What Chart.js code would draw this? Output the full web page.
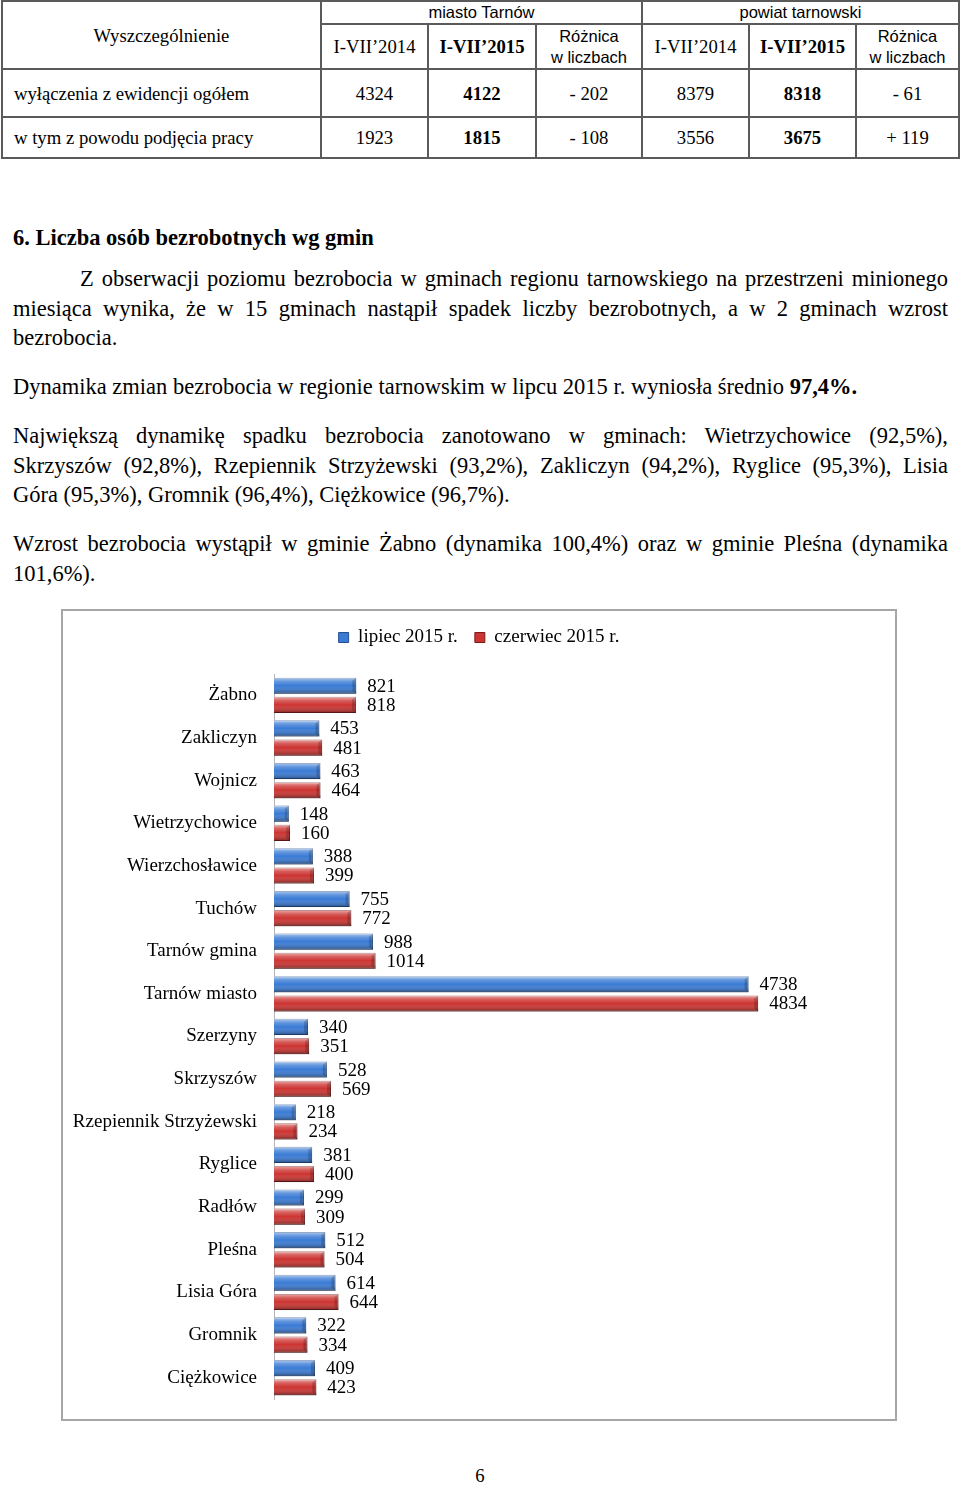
<!DOCTYPE html>
<html lang="pl">
<head>
<meta charset="utf-8">
<title>Liczba osób bezrobotnych wg gmin</title>
<script src="https://cdn.jsdelivr.net/npm/chart.js@4.4.1/dist/chart.umd.min.js"></script>
<style>
  body {
    margin: 0;
    width: 960px;
    height: 1485px;
    position: relative;
    overflow: hidden;
    background: #fff;
    color: #000;
    font-family: "Liberation Serif", "Times New Roman", serif;
  }
  .tab { position: absolute; left: 1px; top: 0; border-collapse: collapse; table-layout: fixed; }
  .tab td { border: 2px solid #5a5a5a; padding: 0; text-align: center; font-size: 18.7px; line-height: 21px; }
  .tab td.l { text-align: left; padding-left: 11px; }
  .tab .s { font-family: "Liberation Sans", Arial, sans-serif; font-size: 16.5px; line-height: 21px; }
  .tab b { font-weight: bold; }
  .txt { position: absolute; left: 13px; width: 935px; font-size: 22.5px; line-height: 29.6px; }
  .j { text-align: justify; text-align-last: justify; }
  .ind { text-indent: 67px; }
  #box {
    position: absolute; left: 61px; top: 609px; width: 836px; height: 812px;
    border: 2px solid #a6a6a6; box-sizing: border-box;
  }
  #wrap { position: absolute; left: 0; top: 0; width: 832px; height: 808px; }
  .page { position: absolute; left: 0; width: 960px; top: 1465px; text-align: center; font-size: 18.7px; }
</style>
</head>
<body>

<table class="tab">
  <colgroup>
    <col style="width:319px"><col style="width:107px"><col style="width:108px"><col style="width:106px">
    <col style="width:107px"><col style="width:107px"><col style="width:103px">
  </colgroup>
  <tr style="height:22px">
    <td rowspan="2">Wyszczególnienie</td>
    <td colspan="3" class="s">miasto Tarnów</td>
    <td colspan="3" class="s">powiat tarnowski</td>
  </tr>
  <tr style="height:45px">
    <td>I-VII’2014</td><td><b>I-VII’2015</b></td><td class="s">Różnica<br>w liczbach</td>
    <td>I-VII’2014</td><td><b>I-VII’2015</b></td><td class="s">Różnica<br>w liczbach</td>
  </tr>
  <tr style="height:48px">
    <td class="l">wyłączenia z ewidencji ogółem</td>
    <td>4324</td><td><b>4122</b></td><td>- 202</td><td>8379</td><td><b>8318</b></td><td>- 61</td>
  </tr>
  <tr style="height:41px">
    <td class="l">w tym z powodu podjęcia pracy</td>
    <td>1923</td><td><b>1815</b></td><td>- 108</td><td>3556</td><td><b>3675</b></td><td>+ 119</td>
  </tr>
</table>

<div class="txt" style="top:223px"><b>6. Liczba osób bezrobotnych wg gmin</b></div>

<div class="txt" style="top:264px">
  <div class="j ind">Z obserwacji poziomu bezrobocia w gminach regionu tarnowskiego na przestrzeni minionego</div>
  <div class="j">miesiąca wynika, że w 15 gminach nastąpił spadek liczby bezrobotnych, a w 2 gminach wzrost</div>
  <div>bezrobocia.</div>
</div>

<div class="txt" style="top:372px">Dynamika zmian bezrobocia w regionie tarnowskim w lipcu 2015 r. wyniosła średnio <b>97,4%.</b></div>

<div class="txt" style="top:421px">
  <div class="j">Największą dynamikę spadku bezrobocia zanotowano w gminach: Wietrzychowice (92,5%),</div>
  <div class="j">Skrzyszów (92,8%), Rzepiennik Strzyżewski (93,2%), Zakliczyn (94,2%), Ryglice (95,3%), Lisia</div>
  <div>Góra (95,3%), Gromnik (96,4%), Ciężkowice (96,7%).</div>
</div>

<div class="txt" style="top:529px">
  <div class="j">Wzrost bezrobocia wystąpił w gminie Żabno (dynamika 100,4%) oraz w gminie Pleśna (dynamika</div>
  <div>101,6%).</div>
</div>

<div id="box"><div id="wrap"><canvas id="chart"></canvas></div></div>

<div class="page">6</div>

<script>
// dane z wykresu
const gminy = ["Żabno", "Zakliczyn", "Wojnicz", "Wietrzychowice", "Wierzchosławice", "Tuchów",
  "Tarnów gmina", "Tarnów miasto", "Szerzyny", "Skrzyszów", "Rzepiennik Strzyżewski", "Ryglice",
  "Radłów", "Pleśna", "Lisia Góra", "Gromnik", "Ciężkowice"];
const lipiec = [821, 453, 463, 148, 388, 755, 988, 4738, 340, 528, 218, 381, 299, 512, 614, 322, 409];
const czerwiec = [818, 481, 464, 160, 399, 772, 1014, 4834, 351, 569, 234, 400, 309, 504, 644, 334, 423];
const etykiety = ["lipiec 2015 r.", "czerwiec 2015 r."];

const FONT = "'Liberation Serif', 'Times New Roman', serif";

// wysokość legendy ustawiona na sztywno
const legendFit = {
  id: "legendFit",
  beforeLayout(chart) {
    if (chart.legend._patched) return;
    const fit = chart.legend.fit;
    chart.legend.fit = function () {
      fit.call(this);
      this.height = 63;
    };
    chart.legend._patched = true;
  },
};

// efekt 3D słupków + wartości przy słupkach
const bars3d = {
  id: "bars3d",
  afterDatasetsDraw(chart) {
    const ctx = chart.ctx;
    ctx.save();
    chart.data.datasets.forEach((ds, i) => {
      chart.getDatasetMeta(i).data.forEach((el) => {
        const { x, y, base, height } = el.getProps(["x", "y", "base", "height"], true);
        const left = Math.min(base, x), right = Math.max(base, x);
        const top = y - height / 2, bottom = y + height / 2;
        const g = ctx.createLinearGradient(0, top, 0, bottom);
        g.addColorStop(0, "rgba(255,255,255,0.6)");
        g.addColorStop(0.25, "rgba(255,255,255,0.2)");
        g.addColorStop(0.5, "rgba(255,255,255,0)");
        g.addColorStop(1, "rgba(0,0,0,0.38)");
        ctx.fillStyle = g;
        ctx.fillRect(left, top, right - left, bottom - top);
        // skos na końcu słupka
        ctx.fillStyle = "rgba(0,0,0,0.18)";
        ctx.beginPath();
        ctx.moveTo(right - 4, top + 3);
        ctx.lineTo(right, top);
        ctx.lineTo(right, bottom);
        ctx.lineTo(right - 4, bottom - 3);
        ctx.closePath();
        ctx.fill();
      });
    });
    ctx.fillStyle = "#000";
    ctx.font = "19px " + FONT;
    ctx.textBaseline = "middle";
    ctx.textAlign = "left";
    chart.data.datasets.forEach((ds, i) => {
      chart.getDatasetMeta(i).data.forEach((el, j) => {
        const { x, y } = el.getProps(["x", "y"], true);
        ctx.fillText(String(ds.data[j]), x + 11, y + 1);
      });
    });
    ctx.restore();
  },
};

new Chart(document.getElementById("chart").getContext("2d"), {
  type: "bar",
  data: {
    labels: gminy,
    datasets: [
      {
        label: etykiety[0],
        data: lipiec,
        backgroundColor: "#3a7bd5",
        borderColor: "#24508f",
        borderWidth: 1,
        categoryPercentage: 0.9,
        barPercentage: 0.84,
      },
      {
        label: etykiety[1],
        data: czerwiec,
        backgroundColor: "#cc3431",
        borderColor: "#7a1b19",
        borderWidth: 1,
        categoryPercentage: 0.9,
        barPercentage: 0.84,
      },
    ],
  },
  options: {
    indexAxis: "y",
    responsive: true,
    maintainAspectRatio: false,
    animation: false,
    layout: { padding: { top: 0, right: 0, bottom: 20, left: 0 } },
    scales: {
      x: { min: 0, max: 6200, display: false },
      y: {
        grid: { display: false, drawTicks: false },
        border: { display: true, color: "#b5b5b5", width: 1 },
        ticks: { color: "#000", font: { family: FONT, size: 19 }, padding: 17 },
        afterFit(scale) {
          scale.width = 211;
          scale.paddingTop = 0;
          scale.paddingBottom = 0;
        },
      },
    },
    plugins: {
      legend: {
        position: "top",
        labels: {
          color: "#000",
          font: { family: FONT, size: 19 },
          boxWidth: 10,
          boxHeight: 10,
          padding: 17,
        },
      },
      tooltip: { enabled: false },
    },
  },
  plugins: [legendFit, bars3d],
});
</script>
</body>
</html>
